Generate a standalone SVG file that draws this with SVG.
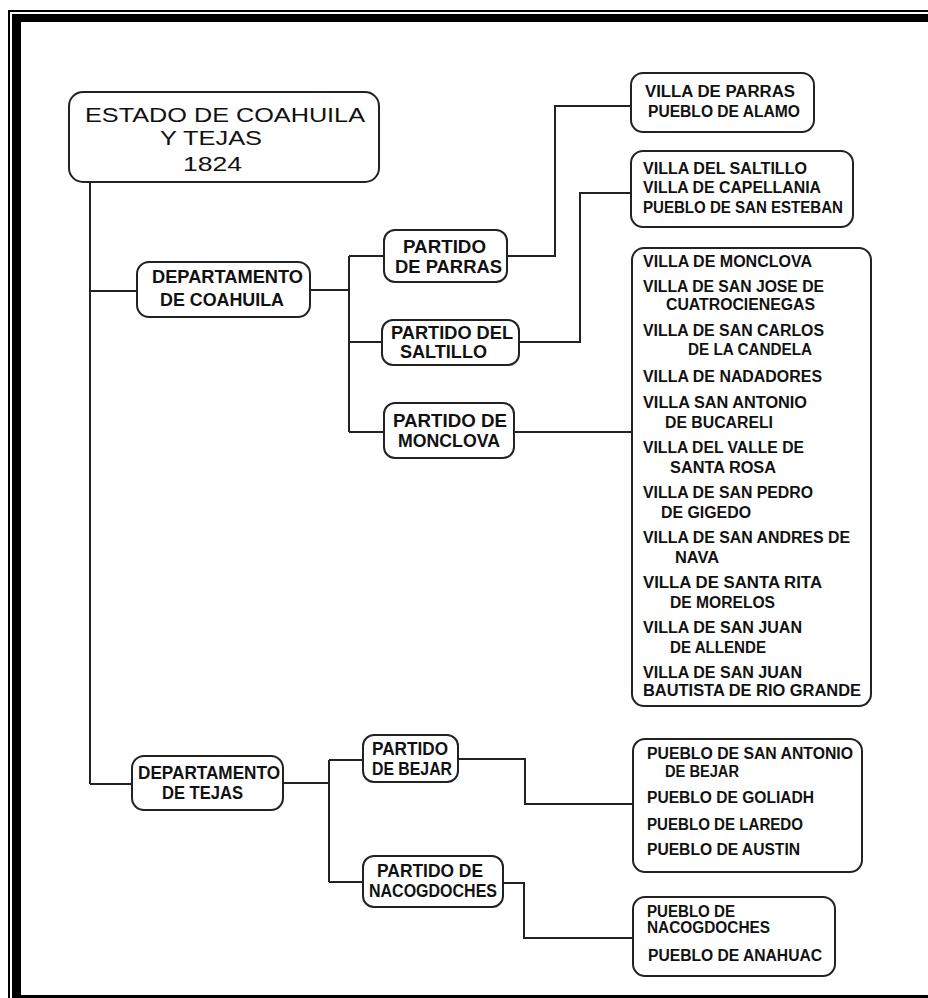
<svg xmlns="http://www.w3.org/2000/svg" width="928" height="998" viewBox="0 0 928 998">
<style>
.box{fill:#fff;stroke:#222;stroke-width:2}
.ln{fill:none;stroke:#222;stroke-width:2}
text{fill:#111;font-family:"Liberation Sans",Arial,sans-serif}
.t1{font-size:21px}
.t2{font-size:18px;font-weight:bold}
.t3{font-size:16px;font-weight:bold}
</style>
<rect x="0" y="0" width="928" height="998" fill="#fff"/>
<g id="frame">
<rect x="8" y="10" width="1000" height="1000" fill="#000"/>
<rect x="10" y="12" width="1000" height="1000" fill="#fff"/>
<rect x="12" y="14" width="1000" height="1000" fill="#000"/>
<rect x="21" y="22" width="1000" height="973" fill="#fff"/>
</g>
<g id="connectors">
<path class="ln" d="M90 182V784M90 291H137M90 784H132"/>
<path class="ln" d="M310 290H349M349 256V432M349 256H384M349 342H382M349 432H384"/>
<path class="ln" d="M507 256H555V106H631"/>
<path class="ln" d="M519 342H580V193H631"/>
<path class="ln" d="M514 432H632"/>
<path class="ln" d="M283 783H329M329 760V882M329 760H363M329 882H363"/>
<path class="ln" d="M458 759H525V804H633"/>
<path class="ln" d="M503 883H524V938H633"/>
</g>
<g id="root">
<rect class="box" x="69" y="92" width="310" height="90" rx="14"/>
<text class="t1" x="85" y="122" textLength="280" lengthAdjust="spacingAndGlyphs">ESTADO DE  COAHUILA</text>
<text class="t1" x="160" y="145" textLength="102" lengthAdjust="spacingAndGlyphs">Y TEJAS</text>
<text class="t1" x="183" y="171" textLength="59" lengthAdjust="spacingAndGlyphs">1824</text>
</g>
<g id="dep-coahuila">
<rect class="box" x="137" y="262" width="173" height="55" rx="12"/>
<text class="t2" x="152" y="283" textLength="151" lengthAdjust="spacingAndGlyphs">DEPARTAMENTO</text>
<text class="t2" x="160" y="306" textLength="124" lengthAdjust="spacingAndGlyphs">DE COAHUILA</text>
</g>
<g id="par-parras">
<rect class="box" x="384" y="230" width="123" height="52" rx="11"/>
<text class="t2" x="403" y="253" textLength="83" lengthAdjust="spacingAndGlyphs">PARTIDO</text>
<text class="t2" x="395" y="273" textLength="107" lengthAdjust="spacingAndGlyphs">DE PARRAS</text>
</g>
<g id="par-saltillo">
<rect class="box" x="382" y="320" width="137" height="45" rx="11"/>
<text class="t2" x="391" y="339" textLength="122" lengthAdjust="spacingAndGlyphs">PARTIDO DEL</text>
<text class="t2" x="400" y="358" textLength="87" lengthAdjust="spacingAndGlyphs">SALTILLO</text>
</g>
<g id="par-monclova">
<rect class="box" x="384" y="403" width="130" height="55" rx="11"/>
<text class="t2" x="393" y="427" textLength="114" lengthAdjust="spacingAndGlyphs">PARTIDO DE</text>
<text class="t2" x="398" y="447" textLength="102" lengthAdjust="spacingAndGlyphs">MONCLOVA</text>
</g>
<g id="dep-tejas">
<rect class="box" x="132" y="756" width="151" height="54" rx="12"/>
<text class="t2" x="138" y="779" textLength="142" lengthAdjust="spacingAndGlyphs">DEPARTAMENTO</text>
<text class="t2" x="162" y="799" textLength="81" lengthAdjust="spacingAndGlyphs">DE TEJAS</text>
</g>
<g id="par-bejar">
<rect class="box" x="363" y="735" width="95" height="47" rx="11"/>
<text class="t2" x="372" y="755" textLength="76" lengthAdjust="spacingAndGlyphs">PARTIDO</text>
<text class="t2" x="372" y="775" textLength="80" lengthAdjust="spacingAndGlyphs">DE BEJAR</text>
</g>
<g id="par-nacogdoches">
<rect class="box" x="363" y="856" width="140" height="51" rx="11"/>
<text class="t2" x="377" y="877" textLength="106" lengthAdjust="spacingAndGlyphs">PARTIDO DE</text>
<text class="t2" x="369" y="897" textLength="128" lengthAdjust="spacingAndGlyphs">NACOGDOCHES</text>
</g>
<g id="leaf-parras">
<rect class="box" x="631" y="73" width="183" height="59" rx="12"/>
<text class="t3" x="645" y="97" textLength="150" lengthAdjust="spacingAndGlyphs">VILLA DE PARRAS</text>
<text class="t3" x="648" y="117" textLength="152" lengthAdjust="spacingAndGlyphs">PUEBLO DE ALAMO</text>
</g>
<g id="leaf-saltillo">
<rect class="box" x="631" y="151" width="222" height="76" rx="12"/>
<text class="t3" x="643" y="174" textLength="164" lengthAdjust="spacingAndGlyphs">VILLA DEL SALTILLO</text>
<text class="t3" x="643" y="193" textLength="178" lengthAdjust="spacingAndGlyphs">VILLA DE CAPELLANIA</text>
<text class="t3" x="643" y="213" textLength="200" lengthAdjust="spacingAndGlyphs">PUEBLO DE SAN ESTEBAN</text>
</g>
<g id="leaf-monclova">
<rect class="box" x="632" y="248" width="239" height="458" rx="12"/>
<text class="t3" x="643" y="267" textLength="169" lengthAdjust="spacingAndGlyphs">VILLA DE MONCLOVA</text>
<text class="t3" x="643" y="292" textLength="181" lengthAdjust="spacingAndGlyphs">VILLA DE SAN JOSE DE</text>
<text class="t3" x="666" y="310" textLength="149" lengthAdjust="spacingAndGlyphs">CUATROCIENEGAS</text>
<text class="t3" x="643" y="336" textLength="181" lengthAdjust="spacingAndGlyphs">VILLA DE SAN CARLOS</text>
<text class="t3" x="688" y="355" textLength="124" lengthAdjust="spacingAndGlyphs">DE LA CANDELA</text>
<text class="t3" x="643" y="382" textLength="179" lengthAdjust="spacingAndGlyphs">VILLA DE NADADORES</text>
<text class="t3" x="643" y="408" textLength="164" lengthAdjust="spacingAndGlyphs">VILLA SAN ANTONIO</text>
<text class="t3" x="665" y="428" textLength="108" lengthAdjust="spacingAndGlyphs">DE BUCARELI</text>
<text class="t3" x="643" y="453" textLength="161" lengthAdjust="spacingAndGlyphs">VILLA DEL VALLE DE</text>
<text class="t3" x="670" y="473" textLength="106" lengthAdjust="spacingAndGlyphs">SANTA ROSA</text>
<text class="t3" x="643" y="498" textLength="170" lengthAdjust="spacingAndGlyphs">VILLA DE SAN PEDRO</text>
<text class="t3" x="661" y="518" textLength="90" lengthAdjust="spacingAndGlyphs">DE GIGEDO</text>
<text class="t3" x="643" y="543" textLength="207" lengthAdjust="spacingAndGlyphs">VILLA DE SAN ANDRES DE</text>
<text class="t3" x="675" y="563" textLength="44" lengthAdjust="spacingAndGlyphs">NAVA</text>
<text class="t3" x="643" y="588" textLength="179" lengthAdjust="spacingAndGlyphs">VILLA DE SANTA RITA</text>
<text class="t3" x="670" y="608" textLength="105" lengthAdjust="spacingAndGlyphs">DE MORELOS</text>
<text class="t3" x="643" y="633" textLength="159" lengthAdjust="spacingAndGlyphs">VILLA DE SAN JUAN</text>
<text class="t3" x="670" y="653" textLength="96" lengthAdjust="spacingAndGlyphs">DE ALLENDE</text>
<text class="t3" x="643" y="678" textLength="159" lengthAdjust="spacingAndGlyphs">VILLA DE SAN JUAN</text>
<text class="t3" x="643" y="696" textLength="218" lengthAdjust="spacingAndGlyphs">BAUTISTA DE RIO GRANDE</text>
</g>
<g id="leaf-bejar">
<rect class="box" x="633" y="739" width="229" height="133" rx="12"/>
<text class="t3" x="647" y="759" textLength="206" lengthAdjust="spacingAndGlyphs">PUEBLO DE SAN ANTONIO</text>
<text class="t3" x="665" y="777" textLength="74" lengthAdjust="spacingAndGlyphs">DE BEJAR</text>
<text class="t3" x="647" y="803" textLength="167" lengthAdjust="spacingAndGlyphs">PUEBLO DE GOLIADH</text>
<text class="t3" x="647" y="830" textLength="156" lengthAdjust="spacingAndGlyphs">PUEBLO DE LAREDO</text>
<text class="t3" x="647" y="855" textLength="153" lengthAdjust="spacingAndGlyphs">PUEBLO DE AUSTIN</text>
</g>
<g id="leaf-nacogdoches">
<rect class="box" x="633" y="897" width="202" height="79" rx="12"/>
<text class="t3" x="647" y="917" textLength="88" lengthAdjust="spacingAndGlyphs">PUEBLO DE</text>
<text class="t3" x="647" y="933" textLength="123" lengthAdjust="spacingAndGlyphs">NACOGDOCHES</text>
<text class="t3" x="648" y="961" textLength="174" lengthAdjust="spacingAndGlyphs">PUEBLO DE ANAHUAC</text>
</g>
</svg>
